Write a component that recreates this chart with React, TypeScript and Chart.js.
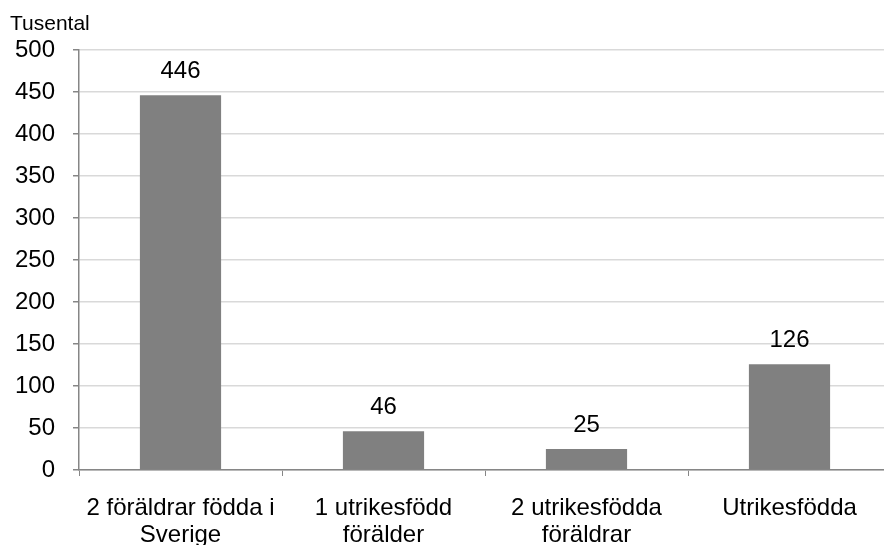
import React, { useEffect, useRef } from "react";
import { Chart, registerables } from "chart.js";

Chart.register(...registerables);

const categories: string[][] = [
  ["2 föräldrar födda i", "Sverige"],
  ["1 utrikesfödd", "förälder"],
  ["2 utrikesfödda", "föräldrar"],
  ["Utrikesfödda"],
];
const values: number[] = [446, 46, 25, 126];
const yTicks: number[] = [0, 50, 100, 150, 200, 250, 300, 350, 400, 450, 500];
const unitLabel = "Tusental";

const FONT = "'Liberation Sans', Arial, sans-serif";

const labelPlugin = {
  id: "valueLabels",
  afterDatasetsDraw(chart: any) {
    const ctx = chart.ctx;
    const meta = chart.getDatasetMeta(0);
    ctx.save();
    ctx.fillStyle = "#000";
    ctx.font = `24px ${FONT}`;
    ctx.textAlign = "center";
    ctx.textBaseline = "alphabetic";
    meta.data.forEach((el: any, i: number) => {
      ctx.fillText(String(values[i]), el.x, el.y - 17);
    });
    ctx.textAlign = "left";
    ctx.font = `21px ${FONT}`;
    ctx.fillText(unitLabel, 10, 30);
    ctx.restore();
  },
};

export default function App() {
  const ref = useRef<HTMLCanvasElement>(null);
  useEffect(() => {
    document.body.style.margin = "0";
    const chart = new Chart(ref.current!, {
      type: "bar",
      data: {
        labels: categories,
        datasets: [
          {
            data: values,
            backgroundColor: "#808080",
            borderWidth: 0,
            barPercentage: 0.8,
            categoryPercentage: 0.5,
          },
        ],
      },
      options: {
        responsive: false,
        animation: false,
        devicePixelRatio: 1,
        layout: { padding: { top: 50, right: 0, left: 0, bottom: 0 } },
        plugins: { legend: { display: false }, tooltip: { enabled: false } },
        scales: {
          x: {
            offset: true,
            grid: {
              offset: true,
              drawOnChartArea: false,
              drawTicks: true,
              tickLength: 6,
              tickColor: "#868686",
            },
            border: { color: "#868686", width: 1.5 },
            ticks: {
              color: "#000",
              font: { family: FONT, size: 24, lineHeight: 1.125 },
              padding: 19,
              maxRotation: 0,
              autoSkip: false,
            },
            afterFit: (s: any) => {
              s.height = 75;
            },
          },
          y: {
            min: 0,
            max: 500,
            afterBuildTicks: (s: any) => {
              s.ticks = yTicks.map((v) => ({ value: v }));
            },
            grid: {
              color: "#d9d9d9",
              lineWidth: 1.5,
              drawTicks: true,
              tickLength: 6,
              tickColor: "#868686",
            },
            border: { color: "#868686", width: 1.5 },
            ticks: {
              color: "#000",
              font: { family: FONT, size: 24 },
              padding: 18,
            },
            afterFit: (s: any) => {
              s.width = 79;
            },
          },
        },
      },
      plugins: [labelPlugin],
    });
    return () => chart.destroy();
  }, []);
  return (
    <div style={{ width: 884, height: 545, overflow: "hidden", position: "relative" }}>
      <canvas ref={ref} width={891} height={545} style={{ width: 891, height: 545, display: "block" }} />
    </div>
  );
}
